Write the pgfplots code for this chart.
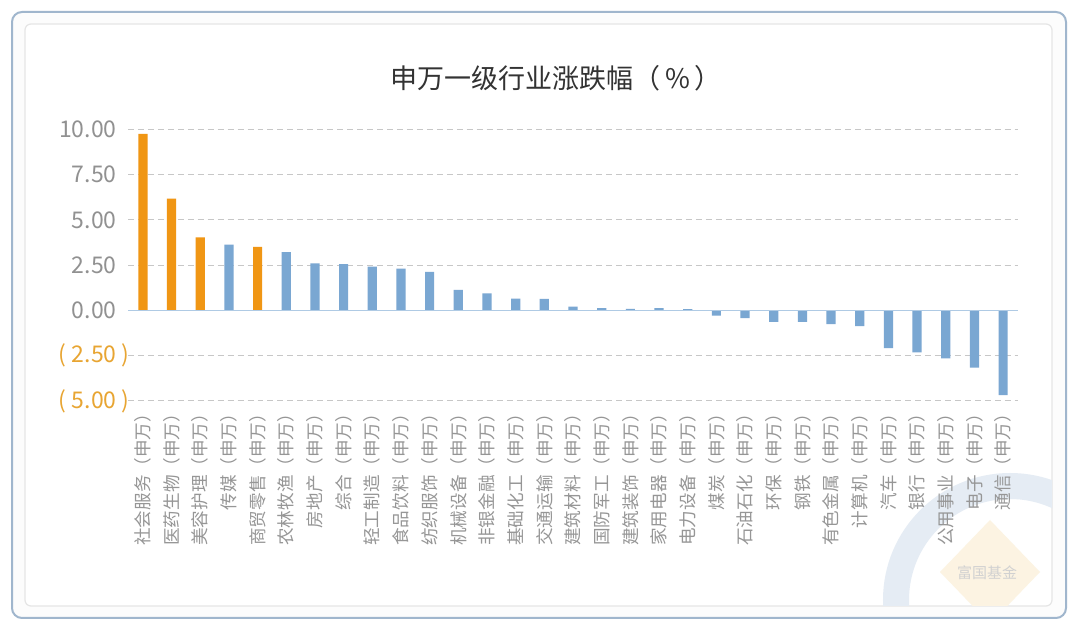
\documentclass[border=0pt]{standalone}
\usepackage{pgfplots}
\pgfplotsset{compat=1.18}
\usepackage{fontspec}
\setmainfont{Noto Sans CJK SC}
\definecolor{barorange}{RGB}{240,150,20}
\definecolor{barblue}{RGB}{122,167,210}
\definecolor{ticgray}{RGB}{145,145,145}
\definecolor{lblgray}{RGB}{150,150,150}
\definecolor{negorange}{RGB}{232,165,50}
\definecolor{zeroblue}{RGB}{175,202,228}
\definecolor{frameblue}{RGB}{160,182,205}
\definecolor{wmblue}{RGB}{229,236,244}
\definecolor{wmorange}{RGB}{252,243,226}
% label with the trailing blank half of the full-width paren removed
\newcommand\sw[1]{#1（申万）\kern-0.45em}

\begin{document}
\begin{tikzpicture}
\begin{scope}[x=0.5bp,y=-0.5bp]
  \useasboundingbox (0,0) rectangle (1080,634);
  \fill[white] (0,0) rectangle (1080,634);
  \draw[frameblue, line width=1bp, rounded corners=5bp, fill=black!1] (12,12) rectangle (1066,618);
  \draw[black!10, line width=0.6bp, rounded corners=3bp, fill=white] (25,24) rectangle (1052,606);
  % watermark
  \begin{scope}
    \clip (25,24) rectangle (1052,606);
    \draw[wmblue, line width=13bp] (1010,600) circle (114);
    \fill[wmorange] (990,520) -- (1040,572) -- (990,624) -- (940,572) -- cycle;
    \node[text=black!18, font=\fontsize{7.5bp}{8bp}\selectfont] at (987,573) {富国基金};
  \end{scope}
  \node[text=black!80, font=\fontsize{13.5bp}{15bp}\selectfont] at (556,78) {申万一级行业涨跌幅（\,\%\,）};
  \coordinate (axsw) at (128,401);
\end{scope}
\begin{axis}[
    at={(axsw)}, anchor=south west,
    scale only axis,
    width=445bp, height=135.75bp,
    xmin=-0.52, xmax=30.52,
    ymin=-5, ymax=10,
    ybar, bar shift=0pt, bar width=4.6bp,
    axis line style={draw=none},
    major tick style={draw=none},
    ymajorgrids=true,
    grid style={densely dashed, black!22, line width=0.5bp},
    ytick={-5,-2.5,0,2.5,5,7.5,10},
    yticklabels={%
      {\textcolor{negorange}{(\ 5.00\rlap{\ )}}},
      {\textcolor{negorange}{(\ 2.50\rlap{\ )}}},
      0.00, 2.50, 5.00, 7.50, 10.00},
    yticklabel style={font=\fontsize{11.5bp}{12bp}\selectfont, text=ticgray, anchor=east, inner sep=0pt, xshift=-5.5bp},
    xtick={0,...,30},
    xticklabels={\sw{社会服务},\sw{医药生物},\sw{美容护理},\sw{传媒},\sw{商贸零售},\sw{农林牧渔},\sw{房地产},\sw{综合},\sw{轻工制造},\sw{食品饮料},\sw{纺织服饰},\sw{机械设备},\sw{非银金融},\sw{基础化工},\sw{交通运输},\sw{建筑材料},\sw{国防军工},\sw{建筑装饰},\sw{家用电器},\sw{电力设备},\sw{煤炭},\sw{石油石化},\sw{环保},\sw{钢铁},\sw{有色金属},\sw{计算机},\sw{汽车},\sw{银行},\sw{公用事业},\sw{电子},\sw{通信}},
    xticklabel style={rotate=90, anchor=east, font=\fontsize{8.8bp}{10bp}\selectfont, text=lblgray, inner sep=1.5bp},
    clip=false,
]
\addplot[fill=barorange, draw=none] coordinates {
  (0,9.76) (1,6.18) (2,4.04) (4,3.51)
};
\addplot[fill=barblue, draw=none] coordinates {
  (3,3.64) (5,3.22) (6,2.61) (7,2.56) (8,2.43) (9,2.32) (10,2.13)
  (11,1.14) (12,0.94) (13,0.66) (14,0.64) (15,0.22) (16,0.13) (17,0.09)
  (18,0.13) (19,0.07) (20,-0.29) (21,-0.42) (22,-0.63) (23,-0.63)
  (24,-0.75) (25,-0.86) (26,-2.08) (27,-2.32) (28,-2.65) (29,-3.16) (30,-4.67)
};
\draw[zeroblue, line width=0.8bp] (axis cs:-0.52,0) -- (axis cs:30.52,0);
\end{axis}
\end{tikzpicture}
\end{document}
